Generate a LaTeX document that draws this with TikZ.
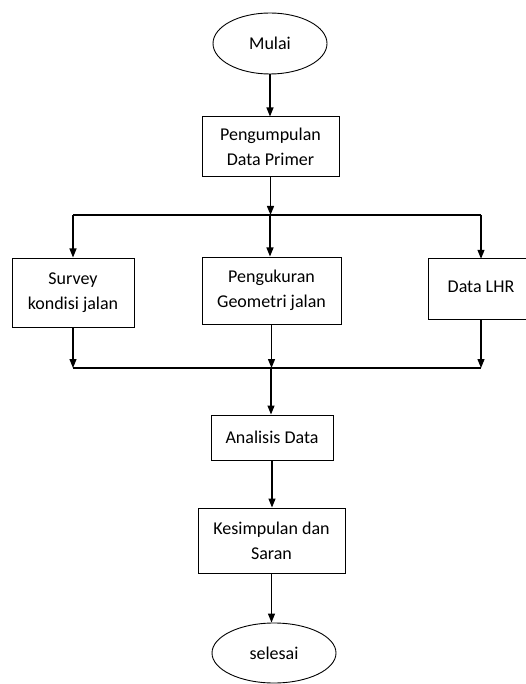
\documentclass[tikz,border=0pt]{standalone}
\usepackage{fontspec}
\setmainfont{Carlito}
\usetikzlibrary{shapes.geometric,arrows.meta}
\begin{document}
\begin{tikzpicture}[x=1pt,y=-1pt,
  every node/.style={font=\fontsize{18}{25}\selectfont, align=center, inner sep=0pt},
  procbox/.style={draw, line width=1pt, rectangle},
  termbox/.style={draw, line width=0.9pt, ellipse},
  arrowline/.style={line width=1.2pt, -{Triangle[length=9pt,width=7pt]}},
  plainline/.style={line width=1.2pt}]
\useasboundingbox (0,0) rectangle (525,684);
\node[termbox, minimum width=114pt, minimum height=61pt] (mulai) at (270,43.5) {Mulai};
\node[procbox, minimum width=137pt, minimum height=60pt] (pdp) at (270.5,147) {Pengumpulan\\Data Primer};
\node[procbox, minimum width=122pt, minimum height=69pt] (survey) at (73,292.5) {Survey\\kondisi jalan};
\node[procbox, minimum width=139pt, minimum height=67pt] (geo) at (271.5,290.5) {Pengukuran\\Geometri jalan};
\node[rectangle, minimum width=104pt, minimum height=60pt] (lhr) at (481,289) {\raisebox{5pt}{Data LHR}};
\draw[line width=1pt] (lhr.south west) rectangle ([xshift=30pt]lhr.north east);
\node[procbox, minimum width=122pt, minimum height=45pt] (ana) at (272,437.5) {Analisis Data};
\node[procbox, minimum width=147pt, minimum height=65pt] (kes) at (271.5,540.5) {Kesimpulan dan\\Saran};
\node[termbox, minimum width=124pt, minimum height=60pt] (sel) at (274,653) {selesai};

\coordinate (t) at (270,215);
\coordinate (tl) at (73,215);
\coordinate (tr) at (481,215);
\coordinate (b) at (271,368);
\coordinate (bl) at (73,368);
\coordinate (br) at (481,368);

\draw[arrowline] (mulai.south) -- (mulai.south |- pdp.north);
\draw[arrowline] (pdp.south) -- (pdp.south |- t);
\draw[plainline] (tl) -- (tr);
\draw[arrowline] (tl) -- (survey.north);
\draw[arrowline] (t) -- (t |- geo.north);
\draw[arrowline] (tr) -- (lhr.north);
\draw[arrowline] (survey.south) -- (bl);
\draw[arrowline] (geo.south) -- (geo.south |- b);
\draw[arrowline] (lhr.south) -- (br);
\draw[plainline] (bl) -- (br);
\draw[arrowline] (b) -- (b |- ana.north);
\draw[arrowline] (ana.south) -- (ana.south |- kes.north);
\draw[arrowline] (kes.south) -- (kes.south |- sel.north);
\end{tikzpicture}
\end{document}
